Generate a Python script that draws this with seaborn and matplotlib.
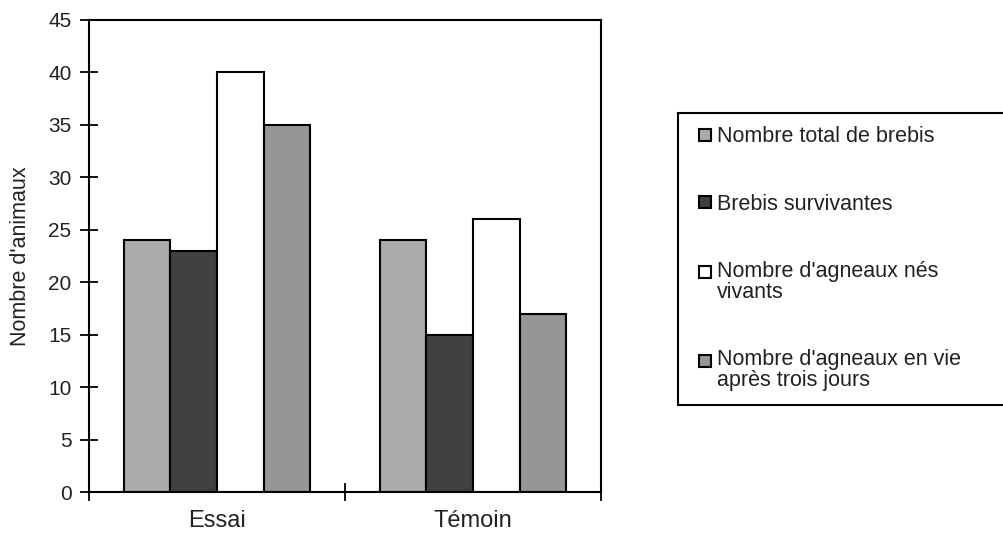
import matplotlib
matplotlib.use("Agg")
import matplotlib.pyplot as plt
import matplotlib.patches as mpatches
from matplotlib.legend_handler import HandlerPatch
import pandas as pd
import seaborn as sns

# Donnees
groupes = ["Essai", "Témoin"]
series = ["Nombre total de brebis",
          "Brebis survivantes",
          "Nombre d'agneaux nés\nvivants",
          "Nombre d'agneaux en vie\naprès trois jours"]
essai = [24, 23, 40, 35]
temoin = [24, 15, 26, 17]
couleurs = ["#ababab", "#404040", "#ffffff", "#969696"]
yticks = [0, 5, 10, 15, 20, 25, 30, 35, 40, 45]

lignes = []
for g, vals in zip(groupes, [essai, temoin]):
    for s, v in zip(series, vals):
        lignes.append({"groupe": g, "serie": s, "valeur": v})
df = pd.DataFrame(lignes)

sns.set_style("white")
plt.rcParams['font.family'] = ['Liberation Sans', 'DejaVu Sans']

fig = plt.figure(figsize=(10.04, 5.33), dpi=100)
ax = fig.add_axes([0.0886, 0.0769, 0.51, 0.8856])

sns.barplot(data=df, x="groupe", y="valeur", hue="serie", hue_order=series,
            order=groupes, palette=couleurs, saturation=1, width=0.73, gap=0,
            edgecolor="black", linewidth=1.5, ax=ax)


# Petits carres de legende, decales vers la droite (et vers le haut
# pour les libelles sur deux lignes)
def carre(dy):
    def f(legend, orig_handle, xdescent, ydescent, width, height, fontsize):
        s = 8.6
        return mpatches.Rectangle((-xdescent + 6.0, -ydescent + (height - s) / 2 + dy), s, s)
    return f


handles, labels = ax.get_legend_handles_labels()
ax.get_legend().remove()
hmap = {handles[0]: HandlerPatch(patch_func=carre(0)),
        handles[1]: HandlerPatch(patch_func=carre(0)),
        handles[2]: HandlerPatch(patch_func=carre(7.2)),
        handles[3]: HandlerPatch(patch_func=carre(7.2))}
# le cadre depasse le bord droit de la figure, comme sur l'original
leg = fig.legend(handles, labels, loc='upper left', mode='expand',
                 bbox_to_anchor=(0.675, 0.0, 0.4, 0.788),
                 frameon=True, fancybox=False, edgecolor='black', framealpha=1,
                 fontsize=15.5, handlelength=1.0, handleheight=0.7,
                 handletextpad=0.2, borderpad=0.62, labelspacing=2.15,
                 borderaxespad=0, handler_map=hmap)
leg.get_frame().set_linewidth(1.5)
for t in leg.get_texts():
    t.set_color('#222222')
    t.set_linespacing(1.0)

# Axes
ax.set_ylim(0, 45)
ax.set_yticks(yticks)
ax.set_xlim(-0.5, 1.5)
ax.set_xticks([-0.5, 0.5, 1.5])
ax.set_xticklabels([])
ax.set_xticks([0, 1], minor=True)
ax.set_xticklabels(groupes, minor=True)
ax.tick_params(axis='x', which='minor', length=0, pad=13, labelsize=17,
               labelcolor='#222222')
ax.tick_params(axis='both', which='major', direction='inout', length=13,
               width=1.3, color='black', left=True, bottom=True,
               right=False, top=False, labelsize=15, labelcolor='#222222', pad=6)
for sp in ax.spines.values():
    sp.set_color('black')
    sp.set_linewidth(1.5)

ax.set_xlabel("")
ax.set_ylabel("Nombre d'animaux", fontsize=15.5, color='#222222')
ax.yaxis.set_label_coords(-0.114, 0.5)

fig.savefig("out.png", dpi=100)
